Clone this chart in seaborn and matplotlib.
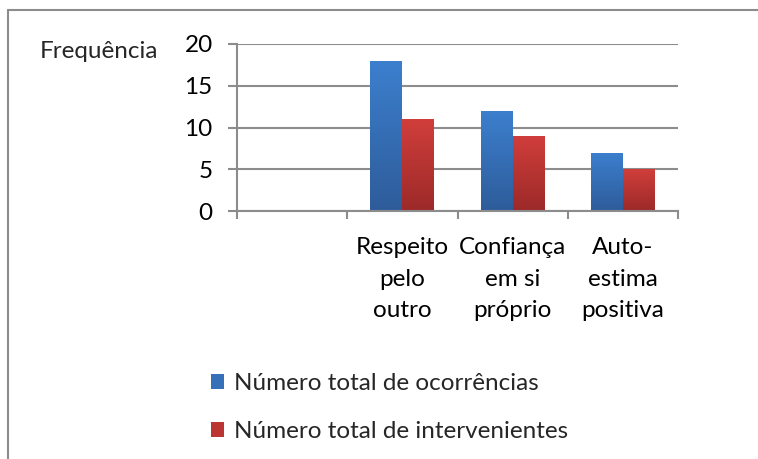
import numpy as np
import pandas as pd
import matplotlib
matplotlib.use("Agg")
import matplotlib.pyplot as plt
from matplotlib.lines import Line2D
from matplotlib.patches import Patch
from matplotlib.colors import LinearSegmentedColormap
import seaborn as sns

categories = ["", "Respeito\npelo\noutro", "Confiança\nem si\npróprio", "Auto-\nestima\npositiva"]
series_names = ["Número total de ocorrências", "Número total de intervenientes"]
ocorrencias = [18, 12, 7]
intervenientes = [11, 9, 5]
y_ticks = [0, 5, 10, 15, 20]
y_label = "Frequência"

sns.set_theme(style="white")
plt.rcParams['font.family'] = ['Lato', 'DejaVu Sans']

FS = 17.5

df = pd.DataFrame({
    "cat": categories[1:] * 2,
    "serie": [series_names[0]] * 3 + [series_names[1]] * 3,
    "val": ocorrencias + intervenientes,
})

top_cols = {series_names[0]: "#3C7FCE", series_names[1]: "#D03E3B"}
bot_cols = {series_names[0]: "#2E5C9A", series_names[1]: "#9C2A29"}
mid_cols = {series_names[0]: "#3570B8", series_names[1]: "#BB3533"}

fig = plt.figure(figsize=(7.58, 4.59), dpi=100)
ax = fig.add_axes([237/758, 1-211/459, (678-237)/758, (211-44)/459])

sns.barplot(data=df, x="cat", y="val", hue="serie", order=categories,
            hue_order=series_names, palette=mid_cols, width=0.58,
            ax=ax, legend=False, saturation=1, linewidth=0)

# gradient fill for each bar
for cont, name in zip(ax.containers, series_names):
    cmap = LinearSegmentedColormap.from_list(name, [bot_cols[name], top_cols[name]])
    for bar in cont:
        x0, y0 = bar.get_x(), bar.get_y()
        w, h = bar.get_width(), bar.get_height()
        if not np.isfinite(h) or h == 0:
            continue
        grad = np.linspace(0, 1, 100).reshape(-1, 1)
        im = ax.imshow(grad, extent=[x0, x0 + w, y0, y0 + h], origin="lower",
                       cmap=cmap, aspect="auto", zorder=bar.get_zorder() + 0.1)
        im.set_clip_path(bar)

ax.set_xlim(-0.5, 3.5)
ax.set_ylim(0, 20)
ax.set_yticks(y_ticks)
ax.set_yticklabels([str(t) for t in y_ticks])
ax.yaxis.grid(True, color="#8C8C8C", linewidth=1.5)
ax.set_axisbelow(True)
ax.set_xlabel("")
ax.set_ylabel("")

# x ticks: major at boundaries (marks), minor at centers (labels)
ax.set_xticks([-0.5, 0.5, 1.5, 2.5, 3.5])
ax.set_xticklabels([])
ax.set_xticks([0, 1, 2, 3], minor=True)
ax.set_xticklabels(categories, minor=True)
ax.tick_params(axis="x", which="major", length=6, width=1.5, color="#8C8C8C", direction="out")
ax.tick_params(axis="x", which="minor", length=0, pad=19, labelsize=FS, colors="black")
for lbl in ax.get_xticklabels(minor=True):
    lbl.set_linespacing(1.6)
ax.tick_params(axis="y", length=6.5, width=1.5, color="#8C8C8C", direction="out",
               labelsize=FS, pad=11, colors="black")
ax.tick_params(axis="both", bottom=True, left=True)
ax.tick_params(axis="x", which="minor", bottom=True)

for s in ["top", "right"]:
    ax.spines[s].set_visible(False)
for s in ["left", "bottom"]:
    ax.spines[s].set_color("#8C8C8C")
    ax.spines[s].set_linewidth(1.5)

fig.text(40/758, 1-52/459, y_label, fontsize=FS, va="center", ha="left")

handles = [Patch(facecolor=mid_cols[n], edgecolor="none") for n in series_names]
fig.legend(handles, series_names, loc="upper left",
           bbox_to_anchor=(211/758, 1-373/459), frameon=False, fontsize=FS,
           handlelength=0.55, handleheight=0.55, handletextpad=0.4,
           labelspacing=1.12, borderaxespad=0, borderpad=0)

# outer chart frame (left and top edges visible)
fig.add_artist(Line2D([8/758, 8/758], [0, 1-10/459], color="#8C8C8C", linewidth=1.5,
                      transform=fig.transFigure))
fig.add_artist(Line2D([8/758, 1], [1-10/459, 1-10/459], color="#8C8C8C", linewidth=1.5,
                      transform=fig.transFigure))

fig.savefig("out.png", dpi=100, facecolor="white")
